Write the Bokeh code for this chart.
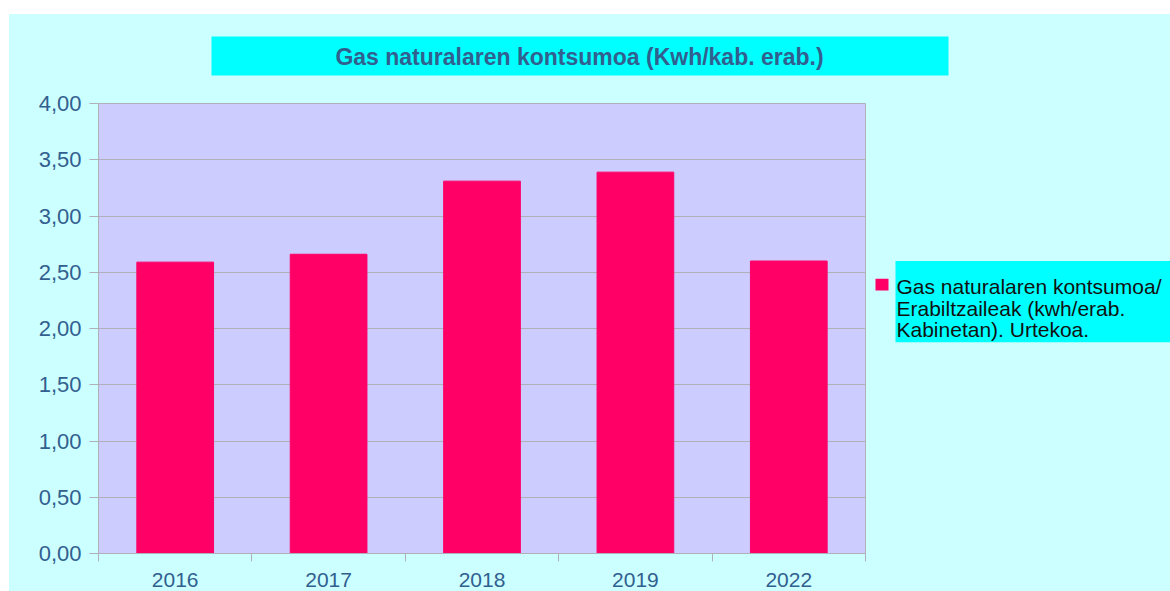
from bokeh.plotting import figure
from bokeh.models import FixedTicker, Range1d, Label, ColumnDataSource
from bokeh.layouts import column, row
from bokeh.embed import file_html
from bokeh.resources import INLINE

# ---- data ----
years = ["2016", "2017", "2018", "2019", "2022"]
values = [2.59, 2.66, 3.31, 3.39, 2.60]
y_ticks = [0.0, 0.5, 1.0, 1.5, 2.0, 2.5, 3.0, 3.5, 4.0]
title_text = "Gas naturalaren kontsumoa (Kwh/kab. erab.)"
legend_lines = ["Gas naturalaren kontsumoa/", "Erabiltzaileak (kwh/erab.", "Kabinetan). Urtekoa."]

BG = "#ccffff"
PLOT_BG = "#ccccff"
BAR = "#ff0066"
CYAN = "#00ffff"
GRID = "#b0b0b8"
LABEL_COL = "#31608f"
FONT = "Liberation Sans"


def blank_fig(w, h):
    f = figure(width=w, height=h, output_backend="svg", toolbar_location=None,
               x_range=Range1d(0, w), y_range=Range1d(h, 0),
               x_axis_type=None, y_axis_type=None,
               min_border=0, min_border_left=0, min_border_right=0,
               min_border_top=0, min_border_bottom=0)
    f.background_fill_color = BG
    f.border_fill_color = BG
    f.outline_line_color = None
    f.xgrid.visible = False
    f.ygrid.visible = False
    return f


# ---------- title strip ----------
tf = blank_fig(1161, 74)
tf.quad(left=[202], right=[939], top=[22], bottom=[61], fill_color=CYAN, line_color=None)
tf.add_layout(Label(x=570, y=42, text=title_text, text_align="center",
                    text_baseline="alphabetic", text_font=FONT, text_font_style="bold",
                    text_font_size="23px", text_color=LABEL_COL))

# ---------- main chart ----------
p = figure(width=857, height=503, output_backend="svg", toolbar_location=None,
           x_range=Range1d(0, len(years)), y_range=Range1d(0, 4),
           min_border_left=89, min_border_right=1, min_border_top=15, min_border_bottom=38)
p.background_fill_color = PLOT_BG
p.border_fill_color = BG
p.outline_line_color = GRID

xs = [i + 0.5 for i in range(len(years))]
src = ColumnDataSource(dict(x=xs, top=values, year=years))
p.vbar(x="x", top="top", bottom=0, width=0.5, source=src, fill_color=BAR, line_color=BAR)

p.xaxis.ticker = FixedTicker(ticks=xs, minor_ticks=list(range(len(years) + 1)))
p.xaxis.major_label_overrides = {x: y for x, y in zip(xs, years)}
p.xaxis.major_tick_out = 0
p.xaxis.major_tick_in = 0
p.xaxis.minor_tick_out = 8
p.xaxis.minor_tick_in = 0
p.xaxis.minor_tick_line_color = GRID
p.xaxis.axis_line_color = GRID
p.xaxis.major_label_standoff = 11
p.xaxis.major_label_text_font = FONT
p.xaxis.major_label_text_font_size = "21px"
p.xaxis.major_label_text_color = LABEL_COL

p.yaxis.ticker = FixedTicker(ticks=y_ticks, minor_ticks=[])
p.yaxis.major_label_overrides = {t: f"{t:.2f}".replace(".", ",") for t in y_ticks}
p.yaxis.major_tick_out = 9
p.yaxis.major_tick_in = 0
p.yaxis.major_tick_line_color = GRID
p.yaxis.axis_line_color = GRID
p.yaxis.major_label_standoff = 8
p.yaxis.major_label_text_font = FONT
p.yaxis.major_label_text_font_size = "22px"
p.yaxis.major_label_text_color = LABEL_COL

p.xgrid.grid_line_color = None
p.ygrid.grid_line_color = GRID
p.ygrid.ticker = FixedTicker(ticks=y_ticks)

# ---------- legend strip ----------
lf = blank_fig(304, 503)
lf.quad(left=[29], right=[304], top=[176], bottom=[267], fill_color=CYAN, line_color=None)
lf.quad(left=[9], right=[22], top=[196], bottom=[209], fill_color=BAR, line_color=None)
for i, line in enumerate(legend_lines):
    lf.add_layout(Label(x=30, y=205 + 23.7 * i, text=line, text_align="left",
                        text_baseline="alphabetic", text_font=FONT,
                        text_font_size="21px", text_color="#111111"))

layout = column(tf, row(p, lf, spacing=0, styles={"background-color": BG}),
                spacing=0, styles={"background-color": BG})
layout.margin = (14, 0, 0, 9)

open("out.html", "w").write(file_html(layout, INLINE))
